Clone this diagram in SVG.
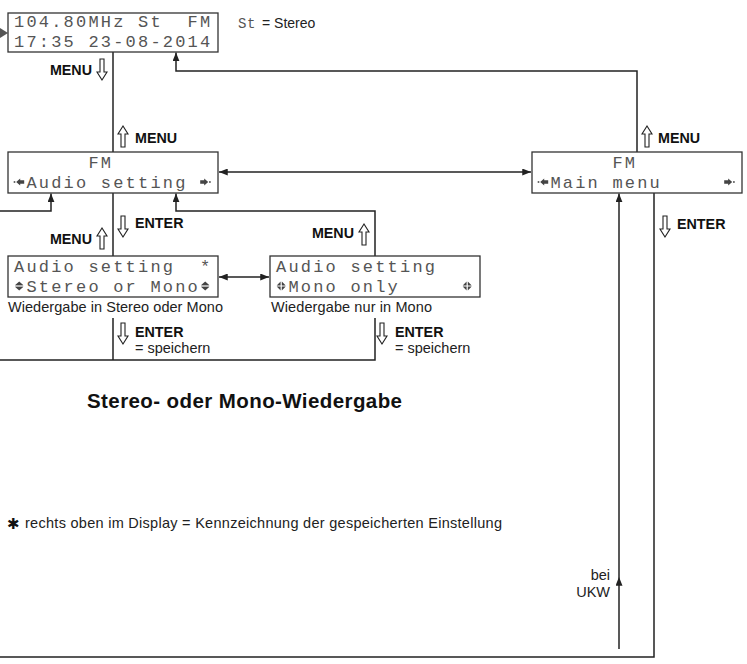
<svg xmlns="http://www.w3.org/2000/svg" width="747" height="664" viewBox="0 0 747 664">
<defs>
<style>
.box{fill:#fff;stroke:#333;stroke-width:1.3}
.disp{font-family:"Liberation Mono","DejaVu Sans Mono",monospace;font-size:17px;letter-spacing:2.2px;fill:#555;white-space:pre}
.lbl{font-family:"Liberation Sans",Arial,sans-serif;font-weight:bold;font-size:14.3px;fill:#111}
.txt{font-family:"Liberation Sans",Arial,sans-serif;font-size:14.5px;fill:#222}
.ln{fill:none;stroke:#222;stroke-width:1.5}
.ha{fill:#fff;stroke:#222;stroke-width:1.1}
.ico{fill:#444}
</style>
<marker id="ah" viewBox="0 0 10 8" refX="10" refY="4" markerWidth="9" markerHeight="7" markerUnits="userSpaceOnUse" orient="auto-start-reverse"><path d="M0,0 L10,4 L0,8 z" fill="#222"/></marker>
<path id="hd" d="M-2,0 H2 V13 H5 L0,21 L-5,13 H-2 Z" class="ha"/>
<path id="hu" d="M-2,21 H2 V8 H5 L0,0 L-5,8 H-2 Z" class="ha"/>
<g id="icoL" class="ico"><rect x="-5.5" y="-0.8" width="1.6" height="1.6"/><path d="M-3,0 L1,-3.5 L1,-1.8 L5,-1.8 L5,1.8 L1,1.8 L1,3.5 Z"/></g>
<g id="icoR" class="ico"><rect x="3.9" y="-0.8" width="1.6" height="1.6"/><path d="M3,0 L-1,-3.5 L-1,-1.8 L-5,-1.8 L-5,1.8 L-1,1.8 L-1,3.5 Z"/></g>
<g id="icoUD" class="ico"><path d="M0,-4.5 L4,-1 L-4,-1 Z M-4,1 L4,1 L0,4.5 Z"/><rect x="-4" y="-0.4" width="8" height="0.8"/></g>
<g id="icoX" class="ico"><path d="M-0.6,-4.5 L-0.6,-0.6 L-4.5,-0.6 Z M0.6,-4.5 L0.6,-0.6 L4.5,-0.6 Z M-0.6,4.5 L-0.6,0.6 L-4.5,0.6 Z M0.6,4.5 L0.6,0.6 L4.5,0.6 Z"/></g>
</defs>
<rect width="747" height="664" fill="#fff"/>

<g id="connectors">
<polygon points="0,28 8,33 0,38" fill="#555"/>
<path class="ln" d="M113,52 V152"/>
<path class="ln" d="M637,152 V71 H176 V52.5" marker-end="url(#ah)"/>
<path class="ln" d="M219,172 H531" marker-start="url(#ah)" marker-end="url(#ah)"/>
<path class="ln" d="M0,211 H51 V193.5" marker-end="url(#ah)"/>
<path class="ln" d="M375,256 V211 H176 V193.5" marker-end="url(#ah)"/>
<path class="ln" d="M113,193 V256"/>
<path class="ln" d="M219,277 H269" marker-start="url(#ah)" marker-end="url(#ah)"/>
<path class="ln" d="M0,360 H375 V318 M113,318 V360"/>
<path class="ln" d="M619,649 V577" marker-end="url(#ah)"/>
<path class="ln" d="M619,577 V193.5" marker-end="url(#ah)"/>
<path class="ln" d="M654,193 V657 H0"/>
</g>

<g id="n-display">
<rect class="box" x="8" y="13" width="210" height="39"/>
<text class="disp" x="14" y="27" xml:space="preserve">104.80MHz St  FM</text>
<text class="disp" x="14" y="47" xml:space="preserve">17:35 23-08-2014</text>
</g>

<g id="n-fm-audio">
<rect class="box" x="8" y="152" width="210" height="41"/>
<text class="disp" x="88.4" y="168">FM</text>
<use href="#icoL" x="19.2" y="182"/>
<text class="disp" x="26.4" y="188">Audio setting</text>
<use href="#icoR" x="205.2" y="182"/>
</g>

<g id="n-main-menu">
<rect class="box" x="532" y="152" width="210" height="41"/>
<text class="disp" x="612.4" y="168">FM</text>
<use href="#icoL" x="543.2" y="182"/>
<text class="disp" x="550.4" y="188">Main menu</text>
<use href="#icoR" x="729.2" y="182"/>
</g>

<g id="n-stereo">
<rect class="box" x="8" y="256" width="210" height="41"/>
<text class="disp" x="14" y="272" xml:space="preserve">Audio setting  *</text>
<use href="#icoUD" x="19.2" y="286"/>
<text class="disp" x="26.4" y="292">Stereo or Mono</text>
<use href="#icoUD" x="205.2" y="286"/>
</g>

<g id="n-mono">
<rect class="box" x="270" y="256" width="210" height="41"/>
<text class="disp" x="276" y="272">Audio setting</text>
<use href="#icoX" x="281.2" y="286"/>
<text class="disp" x="288.4" y="292">Mono only</text>
<use href="#icoX" x="467.2" y="286"/>
</g>

<g id="labels">
<text class="disp" x="238" y="28" style="font-size:14px;letter-spacing:0.5px">St</text>
<text class="txt" x="262" y="28" style="font-size:14px">= Stereo</text>

<text class="lbl" x="92" y="75" text-anchor="end">MENU</text>
<use href="#hd" x="102" y="59"/>

<use href="#hu" x="123" y="126"/>
<text class="lbl" x="135" y="143">MENU</text>

<use href="#hu" x="647" y="126"/>
<text class="lbl" x="658" y="143">MENU</text>

<use href="#hd" x="123" y="216"/>
<text class="lbl" x="135" y="228">ENTER</text>

<use href="#hd" x="665" y="216"/>
<text class="lbl" x="677" y="229">ENTER</text>

<text class="lbl" x="92" y="244" text-anchor="end">MENU</text>
<use href="#hu" x="102" y="228"/>

<text class="lbl" x="354" y="238" text-anchor="end">MENU</text>
<use href="#hu" x="364" y="224"/>

<text class="txt" x="8" y="312" textLength="215">Wiedergabe in Stereo oder Mono</text>
<text class="txt" x="271" y="312" textLength="161">Wiedergabe nur in Mono</text>

<use href="#hd" x="123" y="323"/>
<text class="lbl" x="135" y="337">ENTER</text>
<text class="txt" x="135" y="353">= speichern</text>

<use href="#hd" x="382" y="323"/>
<text class="lbl" x="395" y="337">ENTER</text>
<text class="txt" x="395" y="353">= speichern</text>

<text class="lbl" x="87" y="408" style="font-size:20.5px" textLength="315">Stereo- oder Mono-Wiedergabe</text>

<text x="7" y="529" style="font-family:'DejaVu Sans',sans-serif;font-size:15px;font-weight:bold;fill:#111">✱</text>
<text class="txt" x="25" y="528" textLength="477">rechts oben im Display = Kennzeichnung der gespeicherten Einstellung</text>

<text class="txt" x="610" y="580" text-anchor="end">bei</text>
<text class="txt" x="610" y="597" text-anchor="end">UKW</text>
</g>
</svg>
